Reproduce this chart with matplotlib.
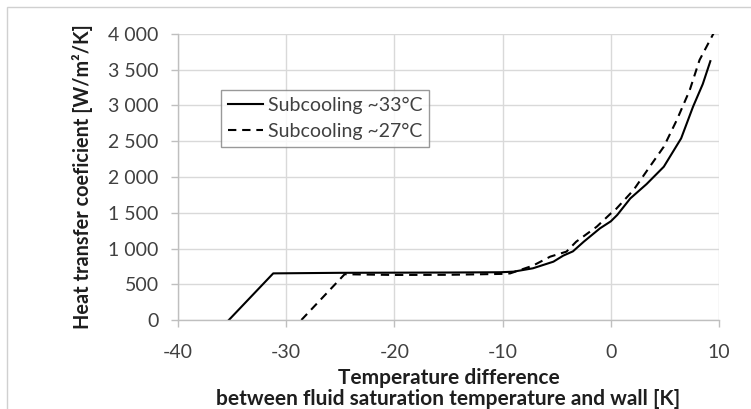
import matplotlib
matplotlib.use("Agg")
import matplotlib.pyplot as plt
from matplotlib.patches import Rectangle

# Data
x_33 = [-35.3, -31.2, -25.0, -20.0, -15.0, -10.2, -9.0, -7.2, -5.3, -4.4, -3.5, -2.5,
        -1.0, 0.0, 0.6, 1.8, 3.3, 4.9, 6.5, 7.6, 8.5, 9.2]
y_33 = [0, 652, 660, 662, 664, 668, 676, 723, 816, 900, 960, 1095,
        1282, 1380, 1470, 1700, 1900, 2144, 2540, 2983, 3300, 3620]
x_27 = [-28.6, -24.6, -20.0, -15.0, -10.0, -9.3, -7.2, -5.6, -4.1, -3.2, -1.3, 0.0,
        0.4, 2.1, 3.6, 4.9, 6.1, 7.3, 8.2, 9.5]
y_27 = [0, 640, 630, 632, 645, 652, 760, 886, 956, 1095, 1305, 1490,
        1538, 1818, 2144, 2424, 2797, 3217, 3636, 4010]
label_33 = "Subcooling ~33°C"
label_27 = "Subcooling ~27°C"
x_ticks = [-40, -30, -20, -10, 0, 10]
y_ticks = [0, 500, 1000, 1500, 2000, 2500, 3000, 3500, 4000]
y_ticklabels = ["0", "500", "1 000", "1 500", "2 000", "2 500", "3 000", "3 500", "4 000"]

plt.rcParams['font.family'] = ['Lato', 'DejaVu Sans']

fig = plt.figure(figsize=(7.51, 4.09), dpi=100)
W, H = 751, 409
ax = fig.add_axes([178 / W, 1 - 320 / H, (719 - 178) / W, (320 - 34) / H])

text_col = "#404040"
label_col = "#1e1e1e"
grid_col = "#d9d9d9"

ax.plot(x_33, y_33, color="black", lw=1.5, label=label_33)
ax.plot(x_27, y_27, color="black", lw=1.5, ls=(0, (4, 2.8)), label=label_27)

ax.set_xlim(-40, 10)
ax.set_ylim(0, 4000)
ax.set_xticks(x_ticks)
ax.set_xticklabels([str(v) for v in x_ticks])
ax.set_yticks(y_ticks)
ax.set_yticklabels(y_ticklabels)
ax.grid(True, color=grid_col, lw=1)
ax.set_axisbelow(True)
for s in ["top", "right"]:
    ax.spines[s].set_visible(False)
for s in ["left", "bottom"]:
    ax.spines[s].set_color("#bfbfbf")
    ax.spines[s].set_linewidth(1)
ax.tick_params(axis="both", colors="#bfbfbf", labelcolor=text_col, labelsize=14,
               length=5, width=1)
ax.tick_params(axis="x", pad=12)
ax.tick_params(axis="y", pad=9)

ax.set_ylabel("Heat transfer coeficient [W/m²/K]", fontsize=14.3, fontweight="bold",
              color=label_col, labelpad=11)
ax.set_xlabel("Temperature difference\nbetween fluid saturation temperature and wall [K]",
              fontsize=15, fontweight="bold", color=label_col, labelpad=5, linespacing=1.12)

leg = ax.legend(loc="upper left", bbox_to_anchor=((221 - 178) / 541, (320 - 90) / 286),
                frameon=True, fancybox=False, fontsize=14, handlelength=1.8,
                handletextpad=0.25, borderpad=0.35, labelspacing=0.45, borderaxespad=0)
leg.get_frame().set_edgecolor("#808080")
leg.get_frame().set_linewidth(1)
for t in leg.get_texts():
    t.set_color(text_col)

fig.patches.append(Rectangle((7 / W, -0.1), 2, 1.1 - 7 / H, transform=fig.transFigure,
                             fill=False, edgecolor="#d0d0d0", lw=1))

fig.savefig("out.png", dpi=100)
